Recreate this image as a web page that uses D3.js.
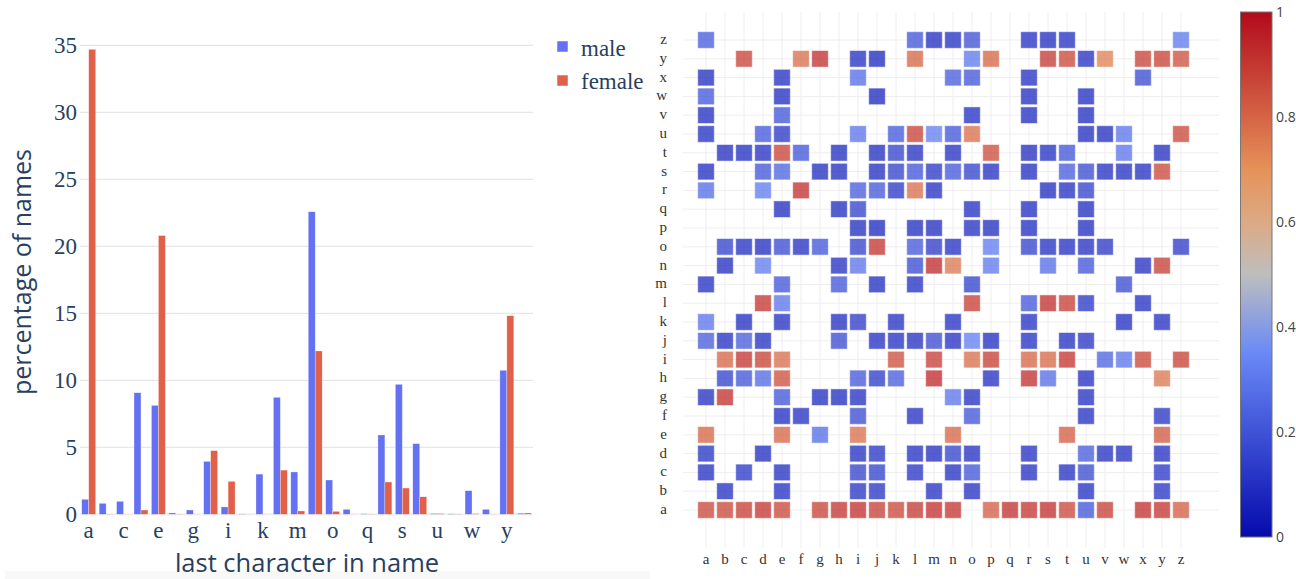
<!DOCTYPE html>
<html lang="en">

<head>
    <meta charset="UTF-8">
    <script src="https://d3js.org/d3.v7.min.js"></script>
    <title>last character</title>
    <style>
        body {
            margin: 0;
            padding: 0;
            background: white;
        }

        svg {
            display: block;
        }
    </style>
</head>

<body>
</body>
<script>

    var letters = 'abcdefghijklmnopqrstuvwxyz'.split('')

    var maleVals = [1.12, 0.82, 0.97, 9.07, 8.13, 0.1, 0.32, 3.95, 0.55, 0.03, 3.0, 8.73, 3.16,
        22.58, 2.56, 0.37, 0.04, 5.92, 9.7, 5.27, 0.06, 0.04, 1.76, 0.37, 10.75, 0.08]
    var femaleVals = [34.7, 0.02, 0.01, 0.32, 20.8, 0.02, 0.01, 4.75, 2.46, 0.01, 0.01, 3.3, 0.25,
        12.19, 0.22, 0.01, 0.02, 2.41, 1.96, 1.31, 0.06, 0.02, 0.05, 0.01, 14.82, 0.1]

    var barTicks = [0, 5, 10, 15, 20, 25, 30, 35]
    var barTickLetters = 'acegikmoqsuwy'.split('')
    var colorTicks = [0, 0.2, 0.4, 0.6, 0.8, 1]

    // [last char (row), char before (column), share]
    var heatCells = [
        ['z', 'a', .22], ['z', 'l', .2], ['z', 'm', .09], ['z', 'n', .1], ['z', 'o', .19], ['z', 'r', .1], ['z', 's', .09], ['z', 't', .1], ['z', 'z', .3],
        ['y', 'c', .88], ['y', 'f', .78], ['y', 'g', .92], ['y', 'i', .1], ['y', 'j', .08], ['y', 'l', .8], ['y', 'o', .3], ['y', 'p', .8], ['y', 's', .9], ['y', 't', .87], ['y', 'u', .1], ['y', 'v', .74], ['y', 'x', .88], ['y', 'y', .88], ['y', 'z', .85],
        ['x', 'a', .09], ['x', 'e', .1], ['x', 'i', .27], ['x', 'n', .22], ['x', 'o', .2], ['x', 'r', .1], ['x', 'x', .17],
        ['w', 'a', .21], ['w', 'e', .09], ['w', 'j', .08], ['w', 'r', .09], ['w', 'u', .09],
        ['v', 'a', .09], ['v', 'e', .2], ['v', 'o', .1], ['v', 'r', .09], ['v', 'u', .09],
        ['u', 'a', .1], ['u', 'd', .21], ['u', 'e', .12], ['u', 'i', .29], ['u', 'k', .21], ['u', 'l', .88], ['u', 'm', .32], ['u', 'n', .2], ['u', 'o', .78], ['u', 'u', .09], ['u', 'v', .09], ['u', 'w', .29], ['u', 'z', .87],
        ['t', 'b', .09], ['t', 'c', .09], ['t', 'd', .1], ['t', 'e', .88], ['t', 'f', .2], ['t', 'h', .09], ['t', 'j', .09], ['t', 'k', .15], ['t', 'l', .1], ['t', 'n', .1], ['t', 'p', .86], ['t', 'r', .09], ['t', 's', .1], ['t', 't', .2], ['t', 'w', .29], ['t', 'y', .09],
        ['s', 'a', .09], ['s', 'd', .2], ['s', 'e', .24], ['s', 'g', .09], ['s', 'h', .09], ['s', 'j', .09], ['s', 'k', .15], ['s', 'l', .2], ['s', 'm', .12], ['s', 'n', .21], ['s', 'o', .15], ['s', 'p', .1], ['s', 'r', .09], ['s', 't', .22], ['s', 'u', .17], ['s', 'v', .1], ['s', 'w', .1], ['s', 'x', .1], ['s', 'y', .87],
        ['r', 'a', .27], ['r', 'd', .31], ['r', 'f', .92], ['r', 'i', .22], ['r', 'j', .21], ['r', 'k', .12], ['r', 'l', .78], ['r', 'm', .1], ['r', 's', .09], ['r', 't', .1], ['r', 'u', .15],
        ['q', 'e', .09], ['q', 'h', .09], ['q', 'i', .15], ['q', 'o', .1], ['q', 'r', .09], ['q', 'u', .09],
        ['p', 'i', .09], ['p', 'j', .08], ['p', 'l', .09], ['p', 'm', .09], ['p', 'o', .1], ['p', 'p', .09], ['p', 'r', .09], ['p', 'u', .09],
        ['o', 'b', .15], ['o', 'c', .1], ['o', 'd', .09], ['o', 'e', .17], ['o', 'f', .1], ['o', 'g', .2], ['o', 'i', .15], ['o', 'j', .91], ['o', 'l', .21], ['o', 'm', .13], ['o', 'n', .1], ['o', 'p', .31], ['o', 'r', .15], ['o', 's', .1], ['o', 't', .1], ['o', 'u', .1], ['o', 'v', .12], ['o', 'z', .13],
        ['n', 'b', .09], ['n', 'd', .31], ['n', 'h', .1], ['n', 'i', .29], ['n', 'l', .17], ['n', 'm', .93], ['n', 'n', .76], ['n', 'p', .3], ['n', 's', .27], ['n', 'u', .2], ['n', 'x', .1], ['n', 'y', .89],
        ['m', 'a', .1], ['m', 'e', .2], ['m', 'h', .2], ['m', 'j', .09], ['m', 'l', .1], ['m', 'o', .15], ['m', 'w', .17],
        ['l', 'd', .91], ['l', 'e', .29], ['l', 'o', .89], ['l', 'r', .21], ['l', 's', .92], ['l', 't', .89], ['l', 'u', .12], ['l', 'x', .1],
        ['k', 'a', .29], ['k', 'c', .09], ['k', 'e', .1], ['k', 'h', .09], ['k', 'i', .13], ['k', 'k', .1], ['k', 'n', .1], ['k', 'r', .1], ['k', 'w', .09], ['k', 'y', .1],
        ['j', 'a', .22], ['j', 'b', .1], ['j', 'c', .22], ['j', 'd', .1], ['j', 'h', .17], ['j', 'j', .1], ['j', 'k', .1], ['j', 'l', .1], ['j', 'm', .17], ['j', 'n', .1], ['j', 'o', .32], ['j', 'p', .09], ['j', 'r', .1], ['j', 't', .1], ['j', 'u', .11],
        ['i', 'b', .8], ['i', 'c', .91], ['i', 'd', .88], ['i', 'e', .78], ['i', 'k', .85], ['i', 'm', .89], ['i', 'o', .78], ['i', 'p', .89], ['i', 'r', .8], ['i', 's', .79], ['i', 't', .91], ['i', 'v', .24], ['i', 'w', .29], ['i', 'x', .87], ['i', 'z', .88],
        ['h', 'b', .15], ['h', 'c', .2], ['h', 'd', .26], ['h', 'e', .85], ['h', 'i', .21], ['h', 'j', .13], ['h', 'k', .22], ['h', 'm', .93], ['h', 'p', .1], ['h', 'r', .92], ['h', 's', .27], ['h', 'u', .1], ['h', 'y', .76],
        ['g', 'a', .1], ['g', 'b', .92], ['g', 'e', .2], ['g', 'g', .09], ['g', 'h', .09], ['g', 'i', .1], ['g', 'n', .29], ['g', 'o', .1], ['g', 'u', .1],
        ['f', 'e', .09], ['f', 'f', .1], ['f', 'i', .17], ['f', 'l', .1], ['f', 'o', .2], ['f', 'u', .1], ['f', 'y', .11],
        ['e', 'a', .8], ['e', 'e', .8], ['e', 'g', .27], ['e', 'i', .78], ['e', 'n', .8], ['e', 't', .82], ['e', 'y', .83],
        ['d', 'a', .11], ['d', 'd', .09], ['d', 'i', .1], ['d', 'j', .11], ['d', 'l', .1], ['d', 'm', .09], ['d', 'n', .15], ['d', 'o', .1], ['d', 'r', .1], ['d', 'u', .22], ['d', 'v', .1], ['d', 'w', .1], ['d', 'y', .1],
        ['c', 'a', .1], ['c', 'c', .12], ['c', 'e', .1], ['c', 'i', .15], ['c', 'j', .15], ['c', 'l', .11], ['c', 'n', .1], ['c', 'o', .2], ['c', 'r', .1], ['c', 't', .1], ['c', 'u', .17], ['c', 'y', .12],
        ['b', 'b', .1], ['b', 'e', .1], ['b', 'i', .11], ['b', 'j', .11], ['b', 'm', .1], ['b', 'o', .1], ['b', 'u', .1], ['b', 'y', .11],
        ['a', 'a', .87], ['a', 'b', .87], ['a', 'c', .89], ['a', 'd', .91], ['a', 'e', .87], ['a', 'g', .88], ['a', 'h', .91], ['a', 'i', .92], ['a', 'j', .89], ['a', 'k', .87], ['a', 'l', .9], ['a', 'm', .92], ['a', 'n', .91],
        ['a', 'p', .82], ['a', 'q', .92], ['a', 'r', .91], ['a', 's', .92], ['a', 't', .87], ['a', 'u', .2], ['a', 'v', .89], ['a', 'x', .92], ['a', 'y', .91], ['a', 'z', .82]
    ]

    var textColor = '#2a3f5f'
    var serif = '"Liberation Serif", "Times New Roman", serif'
    var sans = '"Open Sans", "DejaVu Sans", sans-serif'

    var svg = d3.select('body').append('svg')
        .attr('width', 1296)
        .attr('height', 579)
    svg.append('rect').attr('width', 1296).attr('height', 579).attr('fill', 'white')

    function drawBars(svg) {
        var x = d3.scaleBand().domain(letters).range([80, 533]).paddingInner(0.2).paddingOuter(0.1)
        var xSub = d3.scaleBand().domain(['male', 'female']).range([0, x.bandwidth()])
        var y = d3.scaleLinear().domain([0, 35]).range([514.3, 45.3])

        // the grey strip at the foot of the left panel
        svg.append('rect').attr('x', 5).attr('y', 571).attr('width', 645).attr('height', 8).attr('fill', '#f8f8f8')

        svg.append('g').selectAll('line')
            .data(barTicks)
            .enter()
            .append('line')
            .attr('x1', 80).attr('x2', 533)
            .attr('y1', function (d) { return y(d) }).attr('y2', function (d) { return y(d) })
            .attr('stroke', function (d) { return d == 0 ? '#f0f0f0' : '#e2e2e2' })
            .attr('stroke-width', function (d) { return d == 0 ? 2 : 1 })

        svg.append('g').selectAll('text')
            .data(barTicks)
            .enter()
            .append('text')
            .attr('x', 77)
            .attr('y', function (d) { return y(d) + 8 })
            .attr('text-anchor', 'end')
            .style('font-family', serif).style('font-size', '23px').attr('fill', textColor)
            .text(function (d) { return d })

        var series = [
            { key: 'male', vals: maleVals, color: '#6571f3' },
            { key: 'female', vals: femaleVals, color: '#e0604a' }
        ]
        series.forEach(function (s) {
            svg.append('g').selectAll('rect')
                .data(letters)
                .enter()
                .append('rect')
                .attr('x', function (d) { return x(d) + xSub(s.key) })
                .attr('width', xSub.bandwidth())
                .attr('y', function (d, i) { return y(s.vals[i]) })
                .attr('height', function (d, i) { return y(0) - y(s.vals[i]) })
                .attr('fill', s.color)
                .attr('stroke', 'white').attr('stroke-width', 0.5).attr('stroke-opacity', 0.6)
        })

        svg.append('g').selectAll('text')
            .data(barTickLetters)
            .enter()
            .append('text')
            .attr('x', function (d) { return x(d) + x.bandwidth() / 2 })
            .attr('y', 538)
            .attr('text-anchor', 'middle')
            .style('font-family', serif).style('font-size', '23px').attr('fill', textColor)
            .text(function (d) { return d })

        svg.append('text')
            .attr('transform', 'translate(31,272) rotate(-90)')
            .attr('text-anchor', 'middle')
            .style('font-family', sans).style('font-size', '25px').attr('fill', textColor)
            .text('percentage of names')

        svg.append('text')
            .attr('x', 307).attr('y', 572)
            .attr('text-anchor', 'middle')
            .style('font-family', sans).style('font-size', '25.5px').attr('fill', textColor)
            .text('last character in name')

        var legend = svg.append('g')
        series.forEach(function (s, i) {
            legend.append('rect')
                .attr('x', 557).attr('y', 41 + i * 34)
                .attr('width', 11).attr('height', 11)
                .attr('fill', s.color)
                .attr('stroke', 'white').attr('stroke-width', 0.5)
            legend.append('text')
                .attr('x', 581).attr('y', 56 + i * 33)
                .style('font-family', serif).style('font-size', '23px').attr('fill', textColor)
                .text(s.key)
        })
    }

    var colorStops = [
        [0, 'rgb(5,10,172)'],
        [0.35, 'rgb(106,137,247)'],
        [0.5, 'rgb(190,190,190)'],
        [0.6, 'rgb(220,170,132)'],
        [0.7, 'rgb(230,145,90)'],
        [1, 'rgb(178,10,28)']
    ]
    var color = d3.scaleLinear()
        .domain(colorStops.map(function (d) { return d[0] }))
        .range(colorStops.map(function (d) { return d[1] }))

    function drawHeat(svg) {
        var x = d3.scaleLinear().domain([0, 25]).range([706, 1181])
        var y = d3.scaleLinear().domain([0, 25]).range([510, 40])
        var left = 683, right = 1219, top = 12, bottom = 548

        svg.append('g').selectAll('line')
            .data(letters)
            .enter()
            .append('line')
            .attr('x1', function (d, i) { return x(i) }).attr('x2', function (d, i) { return x(i) })
            .attr('y1', top).attr('y2', bottom)
            .attr('stroke', '#eeeeee')
        svg.append('g').selectAll('line')
            .data(letters)
            .enter()
            .append('line')
            .attr('y1', function (d, i) { return y(i) }).attr('y2', function (d, i) { return y(i) })
            .attr('x1', left).attr('x2', right)
            .attr('stroke', '#eeeeee')

        var size = 16.6
        svg.append('g').selectAll('rect')
            .data(heatCells)
            .enter()
            .append('rect')
            .attr('x', function (d) { return x(letters.indexOf(d[1])) - size / 2 })
            .attr('y', function (d) { return y(letters.indexOf(d[0])) - size / 2 })
            .attr('width', size).attr('height', size)
            .attr('fill', function (d) { return color(d[2]) })
            .attr('fill-opacity', 0.76)
            .attr('stroke', 'white').attr('stroke-opacity', 0.5).attr('stroke-width', 1)

        svg.append('g').selectAll('text')
            .data(letters)
            .enter()
            .append('text')
            .attr('x', function (d, i) { return x(i) })
            .attr('y', 564)
            .attr('text-anchor', 'middle')
            .style('font-family', serif).style('font-size', '15px').attr('fill', '#333')
            .text(function (d) { return d })
        svg.append('g').selectAll('text')
            .data(letters)
            .enter()
            .append('text')
            .attr('x', 667)
            .attr('y', function (d, i) { return y(i) + 4 })
            .attr('text-anchor', 'end')
            .style('font-family', serif).style('font-size', '15px').attr('fill', '#333')
            .text(function (d) { return d })
    }

    function drawColorbar(svg) {
        var cTop = 12, cBottom = 537, cx = 1240.5, cw = 31.5
        var grad = svg.append('defs').append('linearGradient')
            .attr('id', 'cbar').attr('x1', 0).attr('y1', 1).attr('x2', 0).attr('y2', 0)
        grad.selectAll('stop')
            .data(colorStops)
            .enter()
            .append('stop')
            .attr('offset', function (d) { return d[0] })
            .attr('stop-color', function (d) { return d[1] })

        svg.append('rect')
            .attr('x', cx).attr('y', cTop).attr('width', cw).attr('height', cBottom - cTop)
            .attr('fill', 'url(#cbar)')
            .attr('stroke', '#777').attr('stroke-width', 1)

        var cy = d3.scaleLinear().domain([0, 1]).range([cBottom, cTop])
        svg.append('g').selectAll('text')
            .data(colorTicks)
            .enter()
            .append('text')
            .attr('x', cx + cw + 4)
            .attr('y', function (d) { return cy(d) + 5 })
            .style('font-family', sans).style('font-size', '14px').attr('fill', '#444')
            .text(function (d) { return d })
    }

    drawBars(svg)
    drawHeat(svg)
    drawColorbar(svg)

</script>

</html>
